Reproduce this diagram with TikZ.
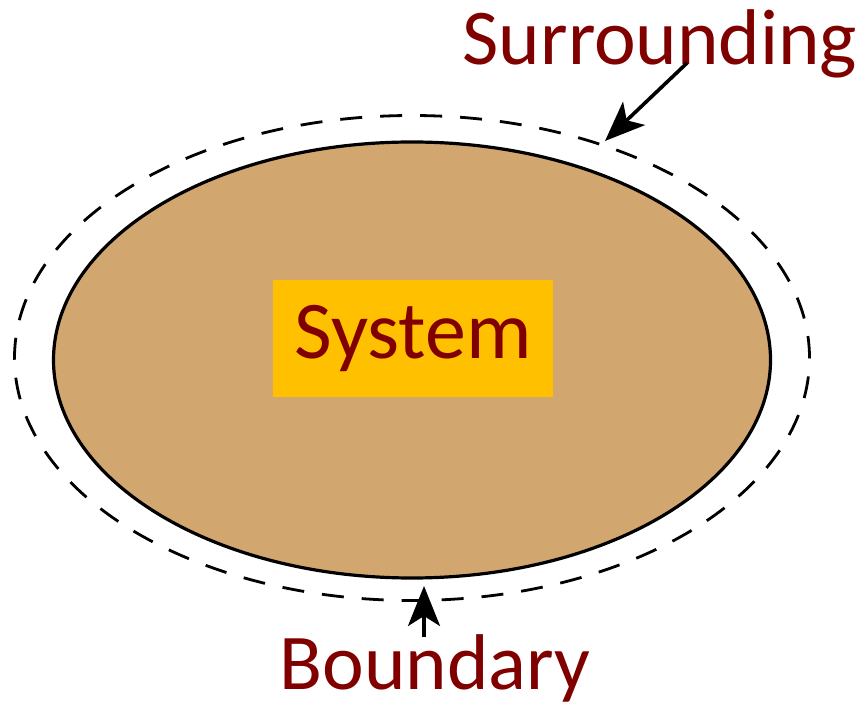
\documentclass[tikz,border=0pt]{standalone}
\usepackage{fontspec}
\setmainfont{Carlito}
\usetikzlibrary{arrows.meta,shapes.geometric}
\definecolor{tan}{HTML}{D2A76F}
\definecolor{sysbox}{HTML}{FFC000}
\definecolor{txtred}{HTML}{800000}
\tikzset{
  lbl/.style={text=txtred, font=\fontsize{79}{86}\selectfont, inner sep=0pt},
  pointer/.style={draw=black, line width=3.6pt, -{Stealth[length=40pt,width=32pt,inset=10pt]}}
}
\begin{document}
\begin{tikzpicture}[x=1pt,y=1pt]
\useasboundingbox (0,0) rectangle (866,709);
% dashed outer boundary
\node[draw=black, line width=2.8pt, dash pattern=on 22pt off 18pt, ellipse, minimum width=795pt, minimum height=485pt, inner sep=0pt] (outer) at (412,351) {};
% system ellipse
\node[draw=black, line width=3.2pt, fill=tan, ellipse, minimum width=717pt, minimum height=436pt, inner sep=0pt] (sys) at (412,349) {};
% System label
\node[fill=sysbox, minimum width=280pt, minimum height=117pt, text=txtred, font=\fontsize{82}{90}\selectfont] (systxt) at (413,370) {System};
% labels
\node[lbl, anchor=base] (surr) at (660,644) {Surrounding};
\node[lbl, anchor=base] (bound) at (435,20) {Boundary};
\coordinate (surrtip) at (605,568);
\coordinate (surrstart) at (687,646);
\coordinate (boundtip) at (424,123);
\coordinate (boundstart) at (424,72);
\draw[pointer] (surrstart) -- (surrtip);
\draw[pointer] (boundstart) -- (boundtip);
\end{tikzpicture}
\end{document}
